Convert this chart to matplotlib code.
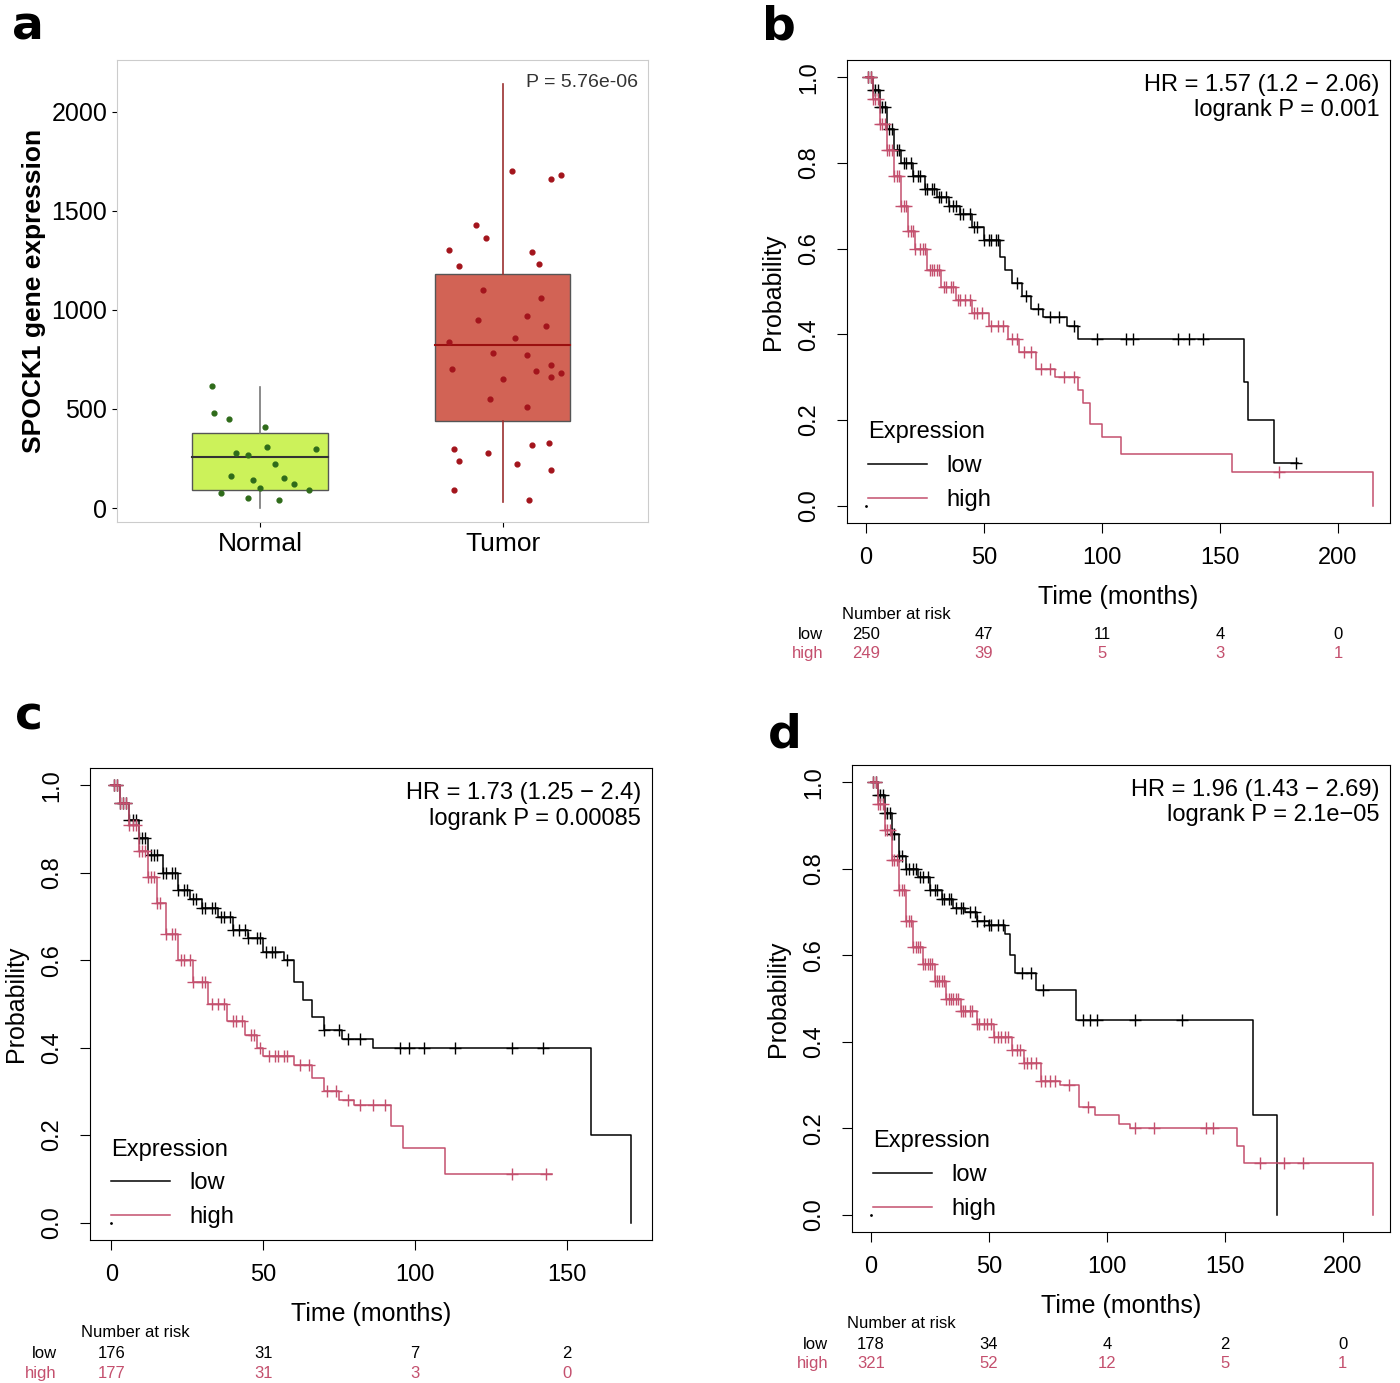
"""
Figure: SPOCK1 expression box plot and Kaplan-Meier survival panels.
"""

import numpy as np
import matplotlib
matplotlib.use('Agg')
import matplotlib.pyplot as plt

# ──────────────────────────────────────────────
# Configuration
# ──────────────────────────────────────────────
LOW_COL = 'black'
HIGH_COL = '#c4506e'
plt.rcParams['font.family'] = 'Liberation Sans'

# ──────────────────────────────────────────────
# Data
# ──────────────────────────────────────────────
NORMAL = {'q1': 90, 'med': 258, 'q3': 378, 'lo': 0, 'hi': 610,
          'pts': [(-0.2, 615), (-0.19, 480), (-0.13, 450), (0.02, 410), (-0.1, 280),
                  (0.03, 310), (0.23, 300), (-0.05, 270), (0.06, 220), (-0.12, 160),
                  (0.1, 150), (-0.03, 140), (0.14, 120), (-0.16, 75), (0.2, 90),
                  (-0.05, 50), (0.08, 40), (0.0, 100)]}
TUMOR = {'q1': 440, 'med': 825, 'q3': 1180, 'lo': 30, 'hi': 2140,
         'pts': [(0.04, 1700), (0.2, 1660), (0.24, 1680), (-0.11, 1430), (-0.07, 1360),
                 (-0.22, 1300), (0.12, 1290), (-0.18, 1220), (0.15, 1230), (-0.08, 1100),
                 (0.16, 1060), (0.1, 970), (-0.1, 950), (0.18, 920), (0.05, 860),
                 (-0.22, 840), (-0.04, 780), (0.1, 770), (0.2, 720), (0.24, 680),
                 (-0.21, 700), (0.14, 690), (0.2, 660), (0.0, 650), (-0.05, 550),
                 (0.1, 510), (-0.2, 300), (0.12, 320), (0.19, 330), (-0.18, 240),
                 (-0.06, 280), (0.06, 220), (0.2, 190), (-0.2, 90), (0.11, 40)]}

PANELS = {
    'b': {
        'low': [(0, 1.0), (3, .97), (6, .93), (9, .88), (12, .83), (15, .8), (20, .77),
                (25, .74), (30, .72), (35, .7), (40, .68), (45, .65), (50, .62), (57, .58),
                (59, .55), (62, .52), (66, .49), (70, .46), (75, .44), (85, .42), (90, .39),
                (160, .29), (162, .2), (173, .1), (183, .1)],
        'high': [(0, 1.0), (3, .95), (6, .89), (9, .83), (12, .77), (15, .7), (18, .64),
                 (21, .6), (26, .55), (32, .51), (38, .48), (45, .45), (52, .42), (60, .39),
                 (65, .36), (72, .32), (80, .3), (90, .27), (92, .24), (95, .19), (100, .16),
                 (108, .12), (155, .08), (215, 0.0)],
        'lc': [1, 2, 3, 4, 5, 6, 7, 8, 10, 11, 13, 14, 16, 17, 19, 20, 22, 23, 25, 26, 28, 29,
               31, 32, 34, 35, 37, 38, 40, 41, 44, 46, 47, 50, 52, 53, 55, 56,
               64, 68, 73, 78, 82, 88, 98, 110, 113, 132, 137, 143, 182],
        'hc': [1, 2, 3, 4, 5, 6, 7, 8, 9, 10, 11, 12, 13, 14, 15, 16, 17, 18, 19, 20, 21, 23,
               24, 25, 27, 28, 29, 30, 31, 33, 34, 36, 37, 39, 40, 42, 44, 46, 47, 49,
               53, 56, 58, 62, 64, 67, 70, 74, 78, 84, 88, 175],
        'hr': 'HR = 1.57 (1.2 − 2.06)\nlogrank P = 0.001',
        'xt': [0, 50, 100, 150, 200], 'xlim': (-8, 222),
        'risk': ([250, 47, 11, 4, 0], [249, 39, 5, 3, 1])},
    'c': {
        'low': [(0, 1.0), (3, .96), (6, .92), (9, .88), (12, .84), (17, .8), (22, .76),
                (26, .74), (30, .72), (35, .7), (40, .67), (45, .65), (50, .62), (57, .6),
                (60, .55), (63, .51), (66, .47), (70, .44), (76, .42), (86, .4), (158, .2),
                (171, 0.0)],
        'high': [(0, 1.0), (3, .96), (6, .91), (9, .85), (12, .79), (15, .73), (18, .66),
                 (22, .6), (27, .55), (32, .5), (38, .46), (44, .43), (48, .4), (50, .38),
                 (60, .36), (66, .33), (70, .3), (75, .28), (80, .27), (92, .22), (96, .17),
                 (110, .11), (145, .11)],
        'lc': [1, 2, 3, 4, 5, 6, 7, 8, 9, 10, 11, 13, 14, 15, 17, 18, 20, 21, 22, 24, 25, 27,
               28, 30, 31, 33, 34, 36, 37, 39, 40, 42, 44, 45, 48, 49, 51, 53, 54,
               58, 70, 75, 78, 82, 95, 98, 103, 113, 132, 142],
        'hc': [1, 2, 3, 4, 5, 6, 7, 8, 9, 10, 11, 12, 13, 14, 15, 16, 18, 20, 21, 23, 24, 26,
               27, 30, 31, 33, 35, 37, 40, 41, 43, 46, 47, 49, 52, 54, 55, 57, 58, 62, 65,
               71, 74, 78, 82, 86, 90, 132, 143],
        'hr': 'HR = 1.73 (1.25 − 2.4)\nlogrank P = 0.00085',
        'xt': [0, 50, 100, 150], 'xlim': (-7, 178),
        'risk': ([176, 31, 7, 2], [177, 31, 3, 0])},
    'd': {
        'low': [(0, 1.0), (3, .97), (6, .93), (9, .88), (12, .83), (15, .8), (20, .78),
                (25, .75), (30, .73), (35, .71), (40, .7), (45, .68), (50, .67), (57, .65),
                (59, .6), (61, .56), (70, .52), (87, .45), (162, .23), (172, 0.0)],
        'high': [(0, 1.0), (3, .95), (6, .89), (9, .82), (12, .75), (15, .68), (18, .62),
                 (22, .58), (27, .54), (32, .5), (38, .47), (45, .44), (52, .41), (60, .38),
                 (65, .35), (72, .31), (80, .3), (88, .25), (95, .23), (105, .21), (110, .2),
                 (155, .16), (158, .12), (213, 0.0)],
        'lc': [1, 2, 3, 4, 5, 6, 7, 8, 9, 10, 12, 13, 15, 16, 18, 19, 21, 22, 24, 25, 27, 28,
               30, 31, 33, 34, 36, 38, 39, 42, 44, 45, 48, 50, 51, 54, 56,
               64, 68, 73, 90, 93, 96, 112, 132],
        'hc': [1, 2, 3, 4, 5, 6, 7, 8, 9, 10, 11, 12, 13, 14, 15, 16, 17, 18, 19, 20, 21, 22,
               23, 24, 25, 26, 27, 28, 29, 30, 31, 32, 33, 34, 35, 36, 37, 38, 39, 40, 42, 43,
               45, 46, 48, 49, 51, 52, 54, 55, 57, 58, 60, 62, 63, 65, 66, 68, 70, 72, 74, 76,
               78, 84, 92, 112, 120, 142, 145, 165, 175, 183],
        'hr': 'HR = 1.96 (1.43 − 2.69)\nlogrank P = 2.1e−05',
        'xt': [0, 50, 100, 150, 200], 'xlim': (-8, 220),
        'risk': ([178, 34, 4, 2, 0], [321, 52, 12, 5, 1])},
}


# ──────────────────────────────────────────────
# Plotting
# ──────────────────────────────────────────────
def surv_at(steps, t):
    """Survival value of a step curve at time t."""
    s = steps[0][1]
    for ti, si in steps:
        if ti <= t:
            s = si
    return s


def plot_box(ax):
    """Panel a: box plot with jittered points."""
    for pos, d, face, dot in [(1, NORMAL, '#ccf25a', '#2f6b1a'), (2, TUMOR, '#d26355', '#a3141c')]:
        w = 0.28
        ax.add_patch(plt.Rectangle((pos - w, d['q1']), 2 * w, d['q3'] - d['q1'],
                                   facecolor=face, edgecolor='#555555', lw=1))
        ax.plot([pos - w, pos + w], [d['med']] * 2, color='#333333' if pos == 1 else '#9b1010', lw=1.5)
        ax.plot([pos, pos], [d['q3'], d['hi']], color='#777777' if pos == 1 else '#9b3030', lw=1.2)
        ax.plot([pos, pos], [d['lo'], d['q1']], color='#777777' if pos == 1 else '#9b3030', lw=1.2)
        xs = [pos + p[0] for p in d['pts']]
        ys = [p[1] for p in d['pts']]
        ax.scatter(xs, ys, s=12, color=dot, zorder=3)
    ax.set_xlim(0.41, 2.6)
    ax.set_ylim(-70, 2260)
    ax.set_xticks([1, 2])
    ax.set_xticklabels(['Normal', 'Tumor'], fontsize=19)
    ax.set_yticks([0, 500, 1000, 1500, 2000])
    ax.tick_params(axis='y', labelsize=18)
    ax.set_ylabel('SPOCK1 gene expression', fontsize=19, fontweight='bold')
    for s in ax.spines.values():
        s.set_color('#cccccc')
    ax.text(2.56, 2145, 'P = 5.76e-06', ha='right', va='center', fontsize=14, color='#333333')


def plot_km(ax, p):
    """KM panel with censor marks, legend and number-at-risk table."""
    for key, ckey, col, lab in [('low', 'lc', LOW_COL, 'low'), ('high', 'hc', HIGH_COL, 'high')]:
        t = [s[0] for s in p[key]]
        s = [s[1] for s in p[key]]
        ax.step(t, s, where='post', color=col, lw=1.1, label=lab)
        ax.plot(p[ckey], [surv_at(p[key], c) for c in p[ckey]], '+', color=col, ms=9, mew=1)
    ax.plot([0], [0], '.', color='black', ms=2)
    ax.set_xlim(*p['xlim'])
    ax.set_ylim(-0.04, 1.04)
    ax.set_xticks(p['xt'])
    ax.set_yticks([0, .2, .4, .6, .8, 1.0])
    ax.set_yticklabels(['0.0', '0.2', '0.4', '0.6', '0.8', '1.0'], rotation=90, va='center')
    ax.tick_params(labelsize=17, length=7)
    ax.tick_params(axis='x', pad=10)
    ax.tick_params(axis='y', pad=12)
    ax.set_xlabel('Time (months)', fontsize=18, labelpad=12)
    ax.set_ylabel('Probability', fontsize=18, labelpad=10)
    ax.text(0.98, 0.97, p['hr'], transform=ax.transAxes, ha='right', va='top',
            fontsize=17, linespacing=1.2)
    leg = ax.legend(loc='lower left', title='Expression', frameon=False, fontsize=17,
                    title_fontsize=17, handlelength=2.5, bbox_to_anchor=(0.0, -0.02))
    leg._legend_box.align = 'left'
    tr = ax.get_xaxis_transform()
    ax.text(-10, -0.197, 'Number at risk', transform=tr, fontsize=12, va='center')
    ax.text(-18, -0.24, 'low', transform=tr, fontsize=12, ha='right', va='center')
    ax.text(-18, -0.282, 'high', transform=tr, fontsize=12, ha='right', va='center', color=HIGH_COL)
    for x, lo, hi in zip(p['xt'], p['risk'][0], p['risk'][1]):
        ax.text(x, -0.24, str(lo), transform=tr, fontsize=12, ha='center', va='center')
        ax.text(x, -0.282, str(hi), transform=tr, fontsize=12, ha='center', va='center',
                color=HIGH_COL)


def main():
    fig = plt.figure(figsize=(14, 13.83), dpi=100)
    W, H = 1400, 1383

    def add(l, t, r, b):
        return fig.add_axes([l / W, 1 - b / H, (r - l) / W, (b - t) / H])

    plot_box(add(117, 60, 648, 522))
    plot_km(add(847, 60, 1390, 523), PANELS['b'])
    plot_km(add(90, 768, 652, 1240), PANELS['c'])
    plot_km(add(852, 765, 1390, 1232), PANELS['d'])

    for lab, x, y in [('a', 12, 5), ('b', 762, 5), ('c', 15, 695), ('d', 768, 712)]:
        fig.text(x / W, 1 - y / H, lab, fontsize=34, fontweight='bold', va='top',
                 family='DejaVu Sans')

    fig.savefig('out.png', dpi=100)


if __name__ == '__main__':
    main()
